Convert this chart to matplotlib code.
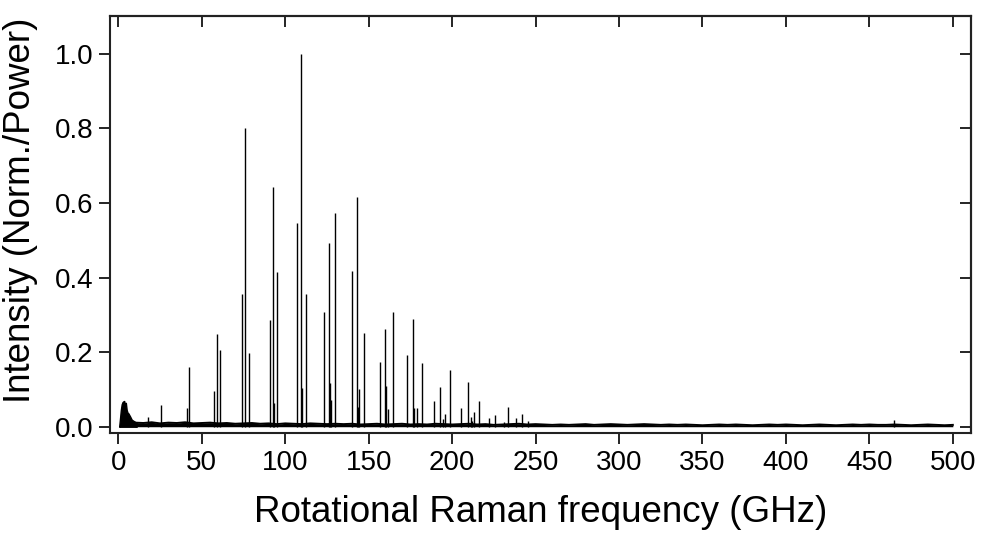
import numpy as np
import matplotlib.pyplot as plt

plt.rcParams['font.family'] = ['Liberation Sans', 'DejaVu Sans']

# rotational lines: frequency (GHz) and normalised intensity
line_freq = [18.0, 25.4, 41.4, 42.4, 57.6, 59.0, 60.7, 74.1, 76.0, 78.1,
             90.6, 92.9, 93.5, 95.3, 107.1, 109.7, 110.1, 112.7,
             123.5, 126.5, 126.9, 127.5, 130.0, 140.0, 143.1, 143.8, 144.2, 147.2,
             156.6, 159.6, 160.4, 161.5, 164.5, 172.7, 176.3, 177.3, 178.9, 181.9,
             189.3, 192.9, 194.5, 196.0, 199.0, 205.6, 209.5, 211.3, 212.2, 213.2,
             216.2, 222.2, 225.7, 230.8, 233.5, 238.4, 242.0, 245.2, 464.6]
line_int = [0.027, 0.058, 0.049, 0.161, 0.096, 0.248, 0.206, 0.355, 0.800, 0.197,
            0.286, 0.643, 0.063, 0.416, 0.546, 1.000, 0.105, 0.355,
            0.307, 0.493, 0.118, 0.072, 0.574, 0.418, 0.617, 0.054, 0.100, 0.250,
            0.174, 0.262, 0.109, 0.047, 0.307, 0.193, 0.289, 0.051, 0.051, 0.170,
            0.070, 0.106, 0.022, 0.033, 0.152, 0.051, 0.119, 0.027, 0.016, 0.039,
            0.069, 0.023, 0.031, 0.013, 0.052, 0.024, 0.034, 0.016, 0.018]

# low-frequency hump near 0 GHz
hump_freq = [0.5, 1.0, 1.5, 2.0, 2.5, 3.0, 3.5, 4.0, 4.5, 5.0, 5.5, 6.0, 7.0, 8.0, 9.0, 10.0, 11.0]
hump_int = [0.0, 0.022, 0.045, 0.060, 0.066, 0.068, 0.069, 0.060, 0.064, 0.045,
            0.038, 0.036, 0.028, 0.019, 0.016, 0.013, 0.010]

# baseline noise, every 5 GHz from 10 to 500
noise_freq = list(range(10, 505, 5))
noise_int = [0.011, 0.010, 0.012, 0.009, 0.011, 0.010, 0.012, 0.009, 0.010, 0.011,
             0.009, 0.010, 0.008, 0.009, 0.010, 0.008, 0.009, 0.007, 0.009, 0.008,
             0.007, 0.009, 0.008, 0.007, 0.008, 0.007, 0.008, 0.006, 0.007, 0.008,
             0.006, 0.007, 0.008, 0.006, 0.007, 0.006, 0.008, 0.007, 0.006, 0.007,
             0.008, 0.006, 0.007, 0.005, 0.006, 0.007, 0.008, 0.006, 0.007, 0.006,
             0.005, 0.006, 0.005, 0.006, 0.007, 0.005, 0.006, 0.007, 0.006, 0.005,
             0.006, 0.007, 0.006, 0.005, 0.006, 0.005, 0.006, 0.005, 0.004, 0.005,
             0.006, 0.005, 0.006, 0.005, 0.004, 0.005, 0.006, 0.005, 0.006, 0.005,
             0.004, 0.005, 0.006, 0.005, 0.004, 0.005, 0.006, 0.005, 0.006, 0.005,
             0.005, 0.006, 0.005, 0.004, 0.005, 0.006, 0.005, 0.004, 0.005]

x_ticks = list(range(0, 501, 50))
y_ticks = [0.0, 0.2, 0.4, 0.6, 0.8, 1.0]

fig = plt.figure(figsize=(9.82, 5.34), dpi=100)
ax = fig.add_axes([0.112, 0.189, 0.877, 0.781])

ax.fill_between(noise_freq, 0, noise_int, color='black', lw=0)
ax.plot(noise_freq, noise_int, color='black', lw=1.4)
ax.fill_between(hump_freq, 0, hump_int, color='black', lw=1.0)
ax.vlines(line_freq, 0, line_int, color='black', lw=1.0)

ax.set_xlim(-5, 511)
ax.set_ylim(-0.017, 1.101)
ax.set_xticks(x_ticks)
ax.set_yticks(y_ticks)
ax.set_yticklabels(['%.1f' % v for v in y_ticks])

for s in ax.spines.values():
    s.set_linewidth(1.5)
    s.set_color('#222222')
ax.tick_params(direction='out', length=8, width=1.2, labelsize=20, pad=4)

top = ax.secondary_xaxis('top')
top.set_xticks(x_ticks)
top.tick_params(direction='in', length=8, width=1.2, labeltop=False)
top.spines['top'].set_linewidth(1.5)
right = ax.secondary_yaxis('right')
right.set_yticks(y_ticks)
right.tick_params(direction='in', length=8, width=1.2, labelright=False)
right.spines['right'].set_linewidth(1.5)

ax.set_xlabel('Rotational Raman frequency (GHz)', fontsize=26.5, labelpad=14)
ax.set_ylabel('Intensity (Norm./Power)', fontsize=26.5)
ax.yaxis.set_label_coords(-0.084, 0.535)

fig.savefig('out.png', dpi=100)
